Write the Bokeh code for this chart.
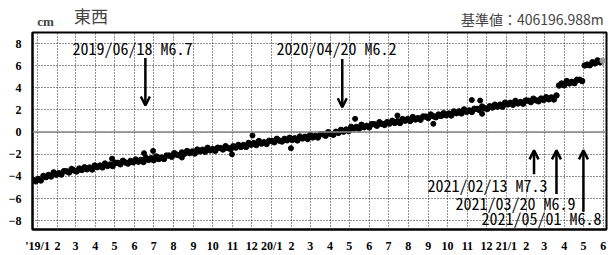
import pandas as pd
from bokeh.plotting import figure
from bokeh.layouts import column
from bokeh.models import FixedTicker, Span, Label, Arrow, OpenHead, ColumnDataSource, Range1d
from bokeh.embed import file_html
from bokeh.resources import INLINE

# ---------------- data ----------------
ORIGIN = pd.Timestamp("2019-01-01")
X_START = "2018-12-24"
X_END = "2021-06-06"
SERIES_START = "2018-12-25"   # one value every 4 days
east_west_cm = [
    -4.31, -4.45, -4.24, -4.37, -3.96, -4.07, -3.87, -4.01, -3.64, -3.85,
    -3.71, -3.84, -3.53, -3.54, -3.65, -3.33, -3.47, -3.55, -3.29, -3.42,
    -3.18, -3.36, -3.20, -3.38, -3.02, -3.17, -3.02, -3.19, -2.84, -3.06,
    -2.93, -3.07, -2.77, -2.78, -2.91, -2.59, -2.75, -2.84, -2.60, -2.73,
    -2.48, -2.67, -2.51, -2.70, -2.34, -2.51, -2.36, -2.54, -2.20, -2.43,
    -2.30, -2.43, -2.12, -2.12, -2.23, -1.90, -2.04, -2.10, -1.84, -1.95,
    -1.71, -1.90, -1.75, -1.93, -1.58, -1.74, -1.59, -1.77, -1.42, -1.65,
    -1.53, -1.69, -1.41, -1.44, -1.57, -1.27, -1.44, -1.53, -1.28, -1.40,
    -1.16, -1.34, -1.17, -1.34, -0.98, -1.14, -0.99, -1.17, -0.81, -1.04,
    -0.92, -1.07, -0.78, -0.79, -0.92, -0.61, -0.77, -0.85, -0.61, -0.74,
    -0.51, -0.71, -0.56, -0.75, -0.40, -0.57, -0.43, -0.62, -0.26, -0.48,
    -0.35, -0.49, -0.19, -0.20, -0.33, -0.01, -0.16, -0.24, 0.03, -0.07,
    0.20, 0.04, 0.23, 0.09, 0.47, 0.32, 0.47, 0.30, 0.66, 0.44,
    0.57, 0.43, 0.72, 0.71, 0.58, 0.90, 0.74, 0.65, 0.90, 0.77,
    1.02, 0.83, 0.99, 0.82, 1.18, 1.03, 1.18, 1.01, 1.36, 1.14,
    1.26, 1.12, 1.41, 1.40, 1.27, 1.59, 1.43, 1.34, 1.59, 1.46,
    1.71, 1.52, 1.68, 1.50, 1.87, 1.71, 1.87, 1.69, 2.05, 1.83,
    1.96, 1.82, 2.11, 2.10, 1.98, 2.31, 2.16, 2.09, 2.34, 2.22,
    2.48, 2.30, 2.48, 2.30, 2.66, 2.50, 2.65, 2.47, 2.82, 2.59,
    2.72, 2.57, 2.86, 2.84, 2.71, 3.02, 2.87, 2.78, 3.03, 2.90,
    3.15, 2.96, 3.13, 2.95, 3.31, 4.21, 4.39, 4.23, 4.61, 4.40,
    4.54, 4.42, 4.73, 4.73, 4.61, 6.02, 6.10, 6.04, 6.31, 6.21,
    6.48, 6.31, 6.46,
]
outlier_dates = ["2019-04-27", "2019-06-16", "2019-06-30", "2019-08-14", "2019-10-31",
                 "2019-12-02", "2020-01-31", "2020-05-10", "2020-07-15", "2020-09-09",
                 "2020-11-08", "2020-11-21", "2020-11-24"]
outlier_cm = [-2.40, -1.90, -1.70, -2.30, -2.00, -0.30, -1.45, 1.20, 1.50, 0.75, 2.90, 2.85, 1.65]

tick_months = pd.date_range("2019-01-01", "2021-06-01", freq="MS")
tick_labels = ["'19/1", "2", "3", "4", "5", "6", "7", "8", "9", "10", "11", "12",
               "20/1", "2", "3", "4", "5", "6", "7", "8", "9", "10", "11", "12",
               "21/1", "2", "3", "4", "5", "6"]
y_ticks = [-8, -6, -4, -2, 0, 2, 4, 6, 8]

quake_dates = ["2019-06-18", "2020-04-20", "2021-02-13", "2021-03-20", "2021-05-01"]
quake_labels = ["2019/06/18 M6.7", "2020/04/20 M6.2", "2021/02/13 M7.3",
                "2021/03/20 M6.9", "2021/05/01 M6.8"]

title_text = "東西"
unit_text = "cm"
ref_text = "基準値：406196.988m"

# ---------------- helpers ----------------
def day(s):
    return (pd.Timestamp(s) - ORIGIN).days

dates = pd.date_range(SERIES_START, periods=len(east_west_cm), freq="4D")
xs = [(d - ORIGIN).days for d in dates]
colors = ["black"] * (len(xs) - 1) + ["#999999"]
src = ColumnDataSource(dict(x=xs, y=east_west_cm, c=colors))
out_src = ColumnDataSource(dict(x=[day(d) for d in outlier_dates], y=outlier_cm))

W = 610
TOP_H = 30
FRAME_L, FRAME_R, FRAME_T, FRAME_B = 32, 606, 32, 229   # page pixels
x0, x1 = day(X_START), day(X_END)
ppd = (FRAME_R - FRAME_L) / (x1 - x0)
Y0, Y1 = -8.8, 9.0
ppu = (FRAME_B - FRAME_T) / (Y1 - Y0)

def px_to_x(px):
    return x0 + (px - FRAME_L) / ppd

def py_to_y(py):
    return Y1 - (py - FRAME_T) / ppu

# ---------------- header strip ----------------
top = figure(width=W, height=TOP_H, x_range=Range1d(0, W), y_range=Range1d(TOP_H, 0),
             output_backend="svg", toolbar_location=None, min_border=0)
top.axis.visible = False
top.grid.visible = False
top.outline_line_color = None
top.background_fill_color = "white"
top.border_fill_color = "white"
top.add_layout(Label(x=5, y=20.5, text=unit_text, text_font="Liberation Sans Narrow",
                     text_font_style="bold", text_font_size="13px", text_baseline="middle"))
top.add_layout(Label(x=44, y=14.5, text=title_text, text_font="Noto Sans CJK JP",
                     text_font_size="17px", text_baseline="middle"))
top.add_layout(Label(x=607, y=18, text=ref_text, text_font="Noto Sans CJK JP",
                     text_font_size="14px", text_baseline="middle", text_align="right"))

# ---------------- main plot ----------------
H = 255 - TOP_H
p = figure(width=W, height=H, x_range=Range1d(x0, x1), y_range=Range1d(Y0, Y1),
           output_backend="svg", toolbar_location=None,
           min_border_left=FRAME_L, min_border_right=W - FRAME_R,
           min_border_top=FRAME_T - TOP_H, min_border_bottom=255 - FRAME_B)
p.background_fill_color = "white"
p.border_fill_color = "white"
p.outline_line_color = "black"
p.outline_line_width = 2

tick_x = [(d - ORIGIN).days for d in tick_months]
p.xaxis.ticker = FixedTicker(ticks=tick_x)
p.xaxis.major_label_overrides = {t: l for t, l in zip(tick_x, tick_labels)}
p.yaxis.ticker = FixedTicker(ticks=y_ticks)
for ax in (p.xaxis, p.yaxis):
    ax.axis_line_color = "black"
    ax.axis_line_width = 2
    ax.major_tick_line_color = None
    ax.minor_tick_line_color = None
    ax.major_label_text_font = "Liberation Sans Narrow"
    ax.major_label_text_font_style = "bold"
    ax.major_label_text_font_size = "12px"
    ax.major_label_text_color = "black"
p.xaxis.major_label_standoff = 3
p.yaxis.major_label_standoff = 5

p.grid.grid_line_color = "#222222"
p.grid.grid_line_dash = "1 2"
p.grid.grid_line_width = 1

p.add_layout(Span(location=0, dimension="width", line_color="#888888", line_width=1.5))

p.scatter("x", "y", source=src, size=5.5, color="c", line_color="c")
p.scatter("x", "y", source=out_src, size=5, color="black")

# earthquake markers
mono = "Noto Sans Mono CJK JP"
fs = "16px"
label_left_page = [72, 276, 427, 455, 481]
label_center_page = [47, 47, 184, 202.5, 217]
arrow_from = [6.7, 6.6, -3.8, -5.6, -7.2]
arrow_to = [2.4, 2.25, -1.65, -1.65, -1.65]
for d, txt, lx, ly, a0, a1 in zip(quake_dates, quake_labels, label_left_page,
                                  label_center_page, arrow_from, arrow_to):
    xd = day(d)
    p.add_layout(Arrow(end=OpenHead(size=9, line_width=2.5, line_color="black"),
                       x_start=xd, y_start=a0, x_end=xd, y_end=a1,
                       line_width=2.5, line_color="black"))
    p.add_layout(Label(x=px_to_x(lx), y=py_to_y(ly), text=txt, text_font=mono,
                       text_font_size=fs, text_baseline="middle", text_align="left",
                       text_color="black"))

layout = column(top, p, spacing=0)
open("out.html", "w").write(file_html(layout, INLINE))
